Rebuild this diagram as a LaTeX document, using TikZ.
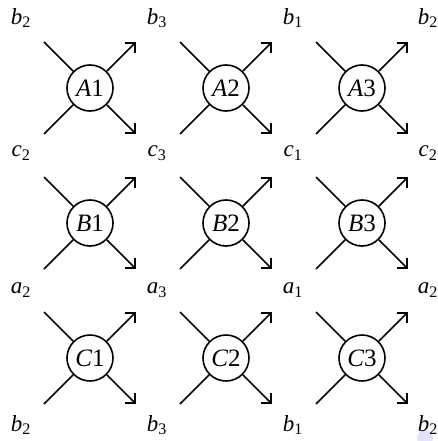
\documentclass[tikz,border=0pt]{standalone}
\usepackage{fontspec}
\setmainfont{Liberation Serif}
\usetikzlibrary{arrows.meta}
\definecolor{blobcol}{RGB}{226,226,250}
\tikzset{
  unit/.style={circle,draw,line width=1.6pt,minimum size=46pt,inner sep=0pt,font=\fontsize{25}{27}\selectfont},
  wire/.style={line width=1.6pt},
  outwire/.style={line width=1.6pt,-{Straight Barb[length=7.5pt,width=15pt,line width=1.6pt]}},
  lbl/.style={font=\fontsize{23}{25}\selectfont,inner sep=0pt}
}
\newcommand{\lab}[2]{{\itshape #1}\textsubscript{#2}}
\begin{document}
\begin{tikzpicture}[x=1pt,y=-1pt]
\useasboundingbox (0,0) rectangle (438,441);
\fill[blobcol] (425,438) circle (8);
% labels
\foreach \r/\yy/\a in {1/18/b,2/153/c,3/290/a,4/425/b}{
  \foreach \c/\xx/\s in {1/21/2,2/157/3,3/293/1,4/428/2}{
    \node[lbl] (L\r\c) at (\xx,\yy) {\lab{\a}{\s}};
  }
}
% units
\foreach \L/\yy in {A/88,B/223,C/358}{
  \foreach \c/\xx in {1/90,2/226,3/362}{
    \node[unit] (\L\c) at (\xx,\yy) {{\itshape \L}\c};
    \coordinate (\L\c-nw) at (\xx-46,\yy-46);
    \coordinate (\L\c-sw) at (\xx-46,\yy+46);
    \coordinate (\L\c-ne) at (\xx+46,\yy-46);
    \coordinate (\L\c-se) at (\xx+46,\yy+46);
    \draw[wire] (\L\c-nw) -- (\L\c);
    \draw[wire] (\L\c-sw) -- (\L\c);
    \draw[outwire] (\L\c) -- (\L\c-ne);
    \draw[outwire] (\L\c) -- (\L\c-se);
  }
}
\end{tikzpicture}
\end{document}
